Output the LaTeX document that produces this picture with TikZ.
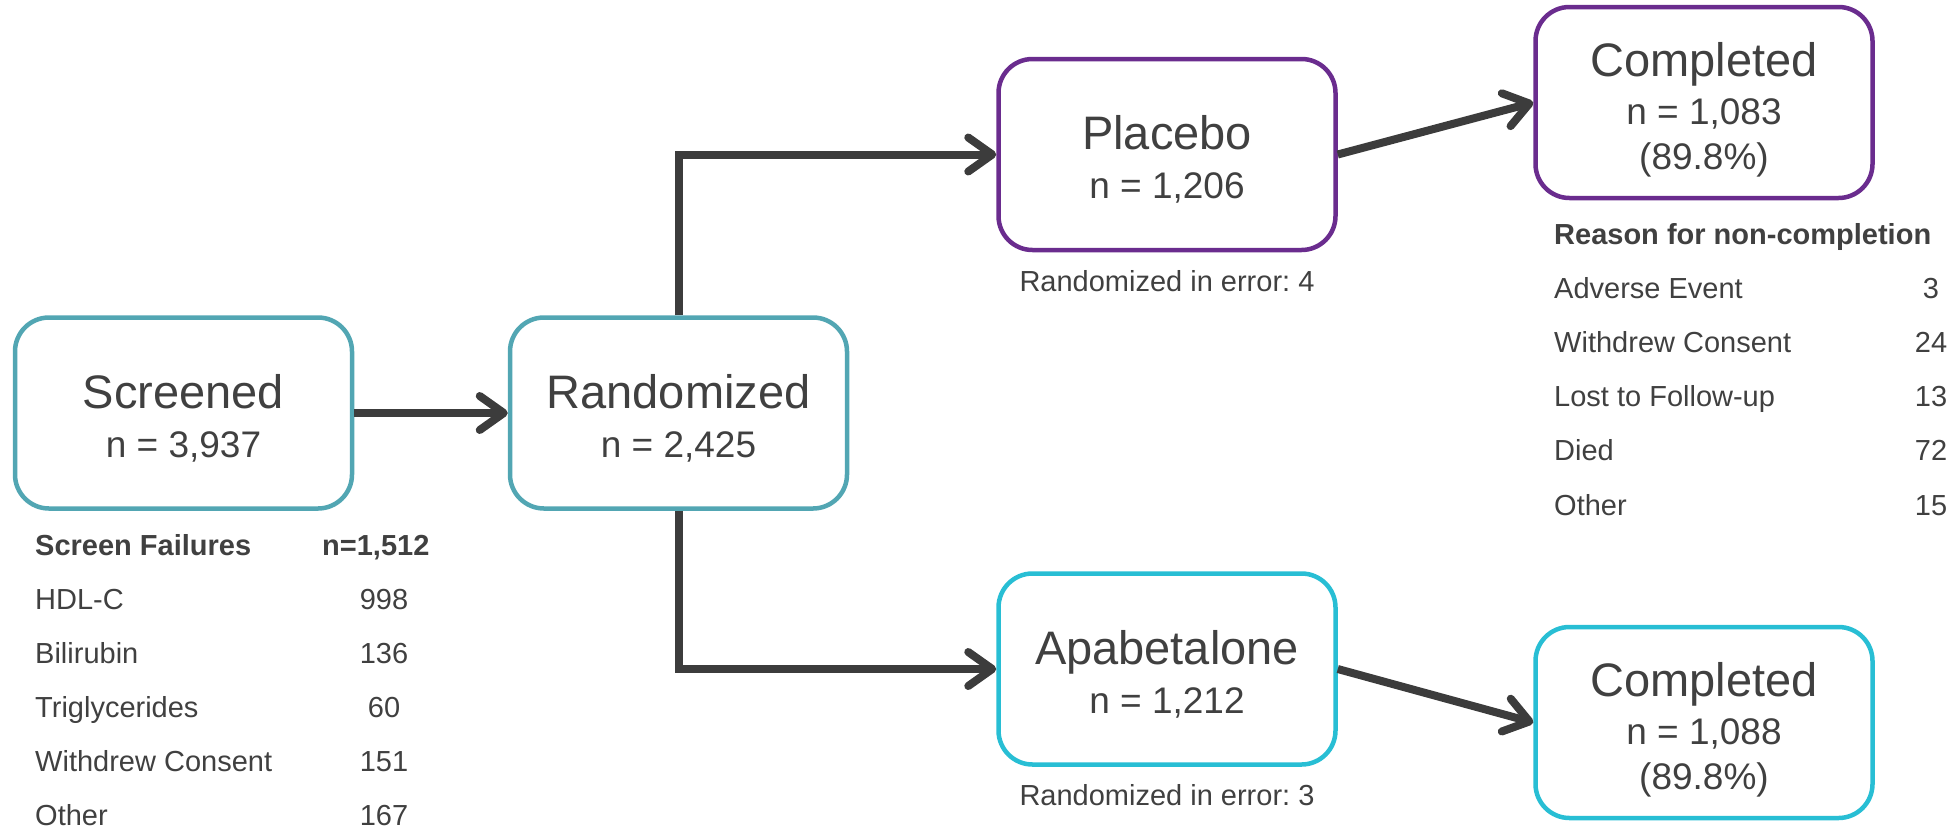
\documentclass[tikz,border=0pt]{standalone}
\usepackage{fontspec}
\setmainfont{Liberation Sans}
\usetikzlibrary{arrows.meta}
\definecolor{txtgray}{HTML}{404040}
\definecolor{arrgray}{HTML}{3C3C3C}
\definecolor{cteal}{HTML}{52A6B3}
\definecolor{cpurple}{HTML}{6A2C8E}
\definecolor{ccyan}{HTML}{28BED4}
\frenchspacing
\begin{document}
\begin{tikzpicture}[x=1pt,y=-1pt,
  box/.style={draw, line width=4.5pt, rounded corners=34pt, minimum width=337pt, minimum height=191pt, inner sep=0pt, fill=white},
  titletxt/.style={font=\fontsize{47}{47}\selectfont, text=txtgray, anchor=base, inner sep=0pt},
  counttxt/.style={font=\fontsize{37}{37}\selectfont, text=txtgray, anchor=base, inner sep=0pt},
  smalltxt/.style={font=\fontsize{29}{29}\selectfont, text=txtgray, inner sep=0pt},
  headtxt/.style={font=\fontsize{29}{29}\selectfont\bfseries, text=txtgray, inner sep=0pt},
  flow/.style={draw=arrgray, line width=8pt, -{Straight Barb[length=24pt,width=34pt,round]}},
]
\useasboundingbox (0,0) rectangle (1959,831);

% boxes
\node[box, draw=cteal] (screened) at (183.5,413) {};
\node[box, draw=cteal] (randomized) at (678.5,413) {};
\node[box, draw=cpurple] (placebo) at (1167,154.5) {};
\node[box, draw=ccyan] (apabetalone) at (1167,669) {};
\node[box, draw=cpurple] (comp1) at (1704,102.5) {};
\node[box, draw=ccyan] (comp2) at (1704,722.5) {};

% box texts
\node[titletxt] (screened-t) at (183.5,408) {Screened};
\node[counttxt] (screened-n) at (183.5,457) {n = 3,937};
\node[titletxt] (randomized-t) at (678.5,408) {Randomized};
\node[counttxt] (randomized-n) at (678.5,457) {n = 2,425};
\node[titletxt] (placebo-t) at (1167,149.5) {Placebo};
\node[counttxt] (placebo-n) at (1167,198.5) {n = 1,206};
\node[titletxt] (apabetalone-t) at (1167,664) {Apabetalone};
\node[counttxt] (apabetalone-n) at (1167,713) {n = 1,212};
\node[titletxt] (comp1-t) at (1704,76.5) {Completed};
\node[counttxt] (comp1-n) at (1704,124.5) {n = 1,083};
\node[counttxt] (comp1-p) at (1704,169.5) {(89.8\%)};
\node[titletxt] (comp2-t) at (1704,696.5) {Completed};
\node[counttxt] (comp2-n) at (1704,744.5) {n = 1,088};
\node[counttxt] (comp2-p) at (1704,789.5) {(89.8\%)};

% randomized in error
\node[smalltxt, anchor=base] (err1) at (1167,291) {Randomized in error: 4};
\node[smalltxt, anchor=base] (err2) at (1167,805) {Randomized in error: 3};

% connectors
\draw[flow] (screened.east) -- (randomized.west);
\draw[flow] (randomized.north) |- (placebo.west);
\draw[flow] (randomized.south) |- (apabetalone.west);
\draw[flow] (placebo.east) -- (comp1.west);
\draw[flow] (apabetalone.east) -- (comp2.west);

% screen failures table
\node[headtxt, anchor=base west] (sf-h) at (35,555) {Screen Failures};
\node[headtxt, anchor=base west] (sf-hn) at (322,555) {n=1,512};
\node[smalltxt, anchor=base west] (sf-1) at (35,609) {HDL-C};
\node[smalltxt, anchor=base] (sf-1n) at (384,609) {998};
\node[smalltxt, anchor=base west] (sf-2) at (35,663) {Bilirubin};
\node[smalltxt, anchor=base] (sf-2n) at (384,663) {136};
\node[smalltxt, anchor=base west] (sf-3) at (35,717) {Triglycerides};
\node[smalltxt, anchor=base] (sf-3n) at (384,717) {60};
\node[smalltxt, anchor=base west] (sf-4) at (35,771) {Withdrew Consent};
\node[smalltxt, anchor=base] (sf-4n) at (384,771) {151};
\node[smalltxt, anchor=base west] (sf-5) at (35,825) {Other};
\node[smalltxt, anchor=base] (sf-5n) at (384,825) {167};

% non-completion table
\node[headtxt, anchor=base west] (nc-h) at (1554,244) {Reason for non-completion};
\node[smalltxt, anchor=base west] (nc-1) at (1554,298) {Adverse Event};
\node[smalltxt, anchor=base] (nc-1n) at (1931,298) {3};
\node[smalltxt, anchor=base west] (nc-2) at (1554,352) {Withdrew Consent};
\node[smalltxt, anchor=base] (nc-2n) at (1931,352) {24};
\node[smalltxt, anchor=base west] (nc-3) at (1554,406) {Lost to Follow-up};
\node[smalltxt, anchor=base] (nc-3n) at (1931,406) {13};
\node[smalltxt, anchor=base west] (nc-4) at (1554,460) {Died};
\node[smalltxt, anchor=base] (nc-4n) at (1931,460) {72};
\node[smalltxt, anchor=base west] (nc-5) at (1554,515) {Other};
\node[smalltxt, anchor=base] (nc-5n) at (1931,515) {15};
\end{tikzpicture}
\end{document}
